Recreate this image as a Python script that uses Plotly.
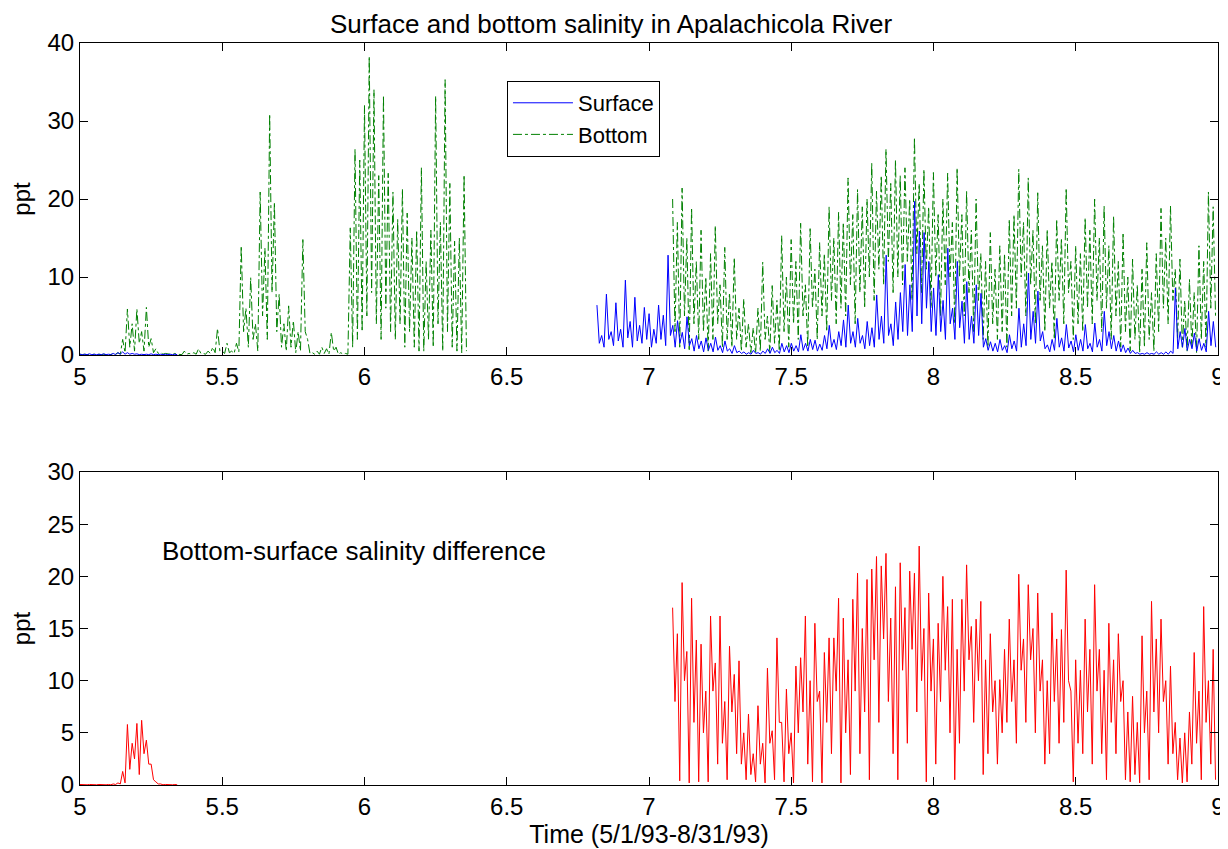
import plotly.graph_objects as go

# sampling step of the records, in months (about a quarter of a day)
STEP = 1 / 120

# surface salinity: two recorded stretches (peak / trough of each tidal cycle)
surface_starts = [5.0, 6.817]
surface_peaks_a = [0.1, 0.1, 0.15, 0.1, 0.1, 0.15, 0.1, 0.2, 0.3, 0.4, 0.3,
                   0.2, 0.15, 0.1, 0.1, 0.15, 0.1, 0.1, 0.1, 0.1, 0.1]
surface_troughs_a = [0.05, 0.05, 0.05, 0.05, 0.05, 0.05, 0.05, 0.05, 0.1, 0.1, 0.1,
                     0.1, 0.05, 0.05, 0.05, 0.05, 0.05, 0.05, 0.05, 0.05, 0.05]
surface_peaks_b = [
    6.4, 2.5, 7.8, 3, 6.7, 3.3, 9.6, 4.3, 7.4, 3.8, 6.1, 5.3,
    3.3, 6.4, 5.1, 12.8, 3.8, 4.4, 2.9, 4.9, 2.1, 2.5, 1.8, 2.2,
    1.5, 2.3, 1.2, 1.8, 0.8, 1.2, 0.5, 0.4, 0.3, 0.6, 0.3, 0.5,
    0.8, 1, 0.6, 1.5, 1.2, 1.5, 1.2, 2.6, 1.5, 2, 1.9, 1.4,
    2.5, 3.8, 2, 3, 4.5, 6.4, 3, 4.7, 2.5, 4.3, 3.5, 7.7,
    5, 12.8, 4, 6.8, 8, 11.6, 9, 19.7, 15.9, 15.7, 12, 8.6,
    10.3, 7, 13.7, 6, 12, 6.9, 9.4, 5, 9, 7.9, 2.1, 1.7,
    1.5, 2, 1.2, 2.6, 1.8, 6, 4, 10.5, 5.6, 8.2, 3, 1.3,
    2, 4.7, 2.2, 3.9, 1.8, 2.6, 2, 3.9, 1.5, 4.1, 2, 5.6,
    3, 2.5, 1.8, 1.3, 0.9, 0.6, 0.3, 0.2, 0.3, 0.2, 0.4, 0.3,
    0.4, 0.5, 8.6, 3, 3.4, 2, 2.8, 2.1, 1.5, 5.6, 4.3]
surface_troughs_b = [
    1.5, 1, 2, 1.2, 1.8, 1, 2.2, 1, 1.8, 1.5, 2, 1,
    1.5, 2, 1.2, 2.5, 1, 1.5, 0.8, 1.2, 0.5, 0.8, 0.4, 0.6,
    0.4, 0.6, 0.3, 0.5, 0.2, 0.3, 0.2, 0.1, 0.1, 0.2, 0.1, 0.2,
    0.2, 0.3, 0.2, 0.4, 0.3, 0.5, 0.4, 0.6, 0.5, 0.7, 0.5, 0.6,
    0.8, 1, 0.7, 1.2, 1, 1.5, 1, 1.5, 0.8, 1.2, 1, 2,
    1.5, 2.5, 1.2, 2, 3, 2.5, 3, 5, 4, 6, 3, 2.5,
    3, 2, 4, 2, 3.5, 1.5, 2, 1.5, 2.5, 1, 0.6, 0.5,
    0.4, 0.6, 0.3, 0.8, 0.5, 1, 1.2, 2, 1.5, 1.8, 0.8, 0.4,
    0.6, 1, 0.5, 0.9, 0.4, 0.6, 0.5, 0.8, 0.4, 1, 0.5, 1.2,
    0.8, 0.5, 0.4, 0.3, 0.2, 0.2, 0.1, 0.1, 0.1, 0.1, 0.1, 0.1,
    0.1, 0.2, 0.8, 1, 0.6, 0.8, 0.5, 0.6, 0.4, 1.2, 1]

# bottom salinity
bottom_starts = [5.0, 7.083]
bottom_peaks_a = [
    0.1, 0.1, 0.1, 0.1, 0.1, 0.1, 0.1, 0.2, 0.3, 2, 5.9, 4,
    5.9, 3, 6.1, 2.1, 0.8, 0.3, 0.2, 0.1, 0.2, 0.1, 0.5, 0.2,
    0.3, 0.8, 0.2, 0.5, 1, 3.4, 0.5, 1.5, 0.5, 1.5, 14, 6,
    9.9, 4, 20.9, 13.7, 30.9, 19.6, 7.8, 4, 6.3, 4.4, 3, 14.8,
    2, 0.3, 0.5, 1, 0.8, 2.9, 1, 0.3, 0.2, 16.3, 26.4, 25,
    32, 38.3, 34, 23, 33.3, 23.3, 20.9, 17.4, 21.3, 18.2, 15, 16,
    24, 12, 16, 33.2, 17, 35.3, 22, 14.6, 15, 23.1]
bottom_troughs_a = [
    0.05, 0.05, 0.05, 0.05, 0.05, 0.05, 0.05, 0.1, 0.1, 0.3, 1, 0.5,
    1.5, 0.5, 1, 0.3, 0.2, 0.1, 0.1, 0.05, 0.1, 0.05, 0.1, 0.1,
    0.1, 0.2, 0.1, 0.2, 0.3, 0.5, 0.2, 0.3, 0.2, 0.4, 3, 1,
    2, 0.5, 5, 2, 8, 3, 1, 0.5, 1, 0.3, 0.5, 3,
    0.2, 0.1, 0.1, 0.2, 0.1, 0.5, 0.1, 0.1, 0.1, 1, 2, 3,
    5, 8, 4, 2, 6, 3, 2, 4, 1, 3, 1, 0.5,
    0.5, 2, 1, 4, 0.5, 3, 1, 0.5, 0.3, 0.5]
bottom_peaks_b = [
    20, 17, 21.4, 15, 18.9, 12, 16, 10, 13, 16.6, 9, 13.8,
    8, 12.5, 6, 7.2, 4, 3.5, 6, 11.9, 5, 8.9, 7, 15.3,
    10, 14.8, 12, 16.9, 9, 16.2, 11, 14.4, 13, 19, 15, 18.3,
    17, 22.7, 18, 21.2, 19, 20, 24.6, 21, 23, 26.4, 22, 25,
    23, 24, 20, 27.9, 22, 23.8, 19, 23.4, 18, 20, 23.3, 17,
    24, 18, 21, 16, 20, 13, 12, 15.7, 11, 14, 13, 17.4,
    18, 23.8, 17, 22.7, 16, 20.8, 14, 16.1, 12, 17.4, 15, 21.4,
    12, 14, 13, 17.6, 16, 20, 15, 19.1, 14, 17.8, 12, 15.7,
    10, 12.3, 9, 11, 14.4, 8, 13, 18.8, 15, 19.1, 11, 12.3,
    7, 9.7, 8, 14, 12, 20.9, 19]
bottom_troughs_b = [
    3, 1, 5, 0.5, 4, 2, 3, 0.5, 2, 4, 1, 2,
    1, 2, 0.5, 1, 0.3, 0.2, 0.5, 2, 0.3, 1.5, 0.5, 3,
    1, 4, 2, 5, 1, 6, 2, 5, 3, 7, 4, 6,
    5, 9, 4, 8, 6, 10, 7, 11, 9, 12, 8, 10,
    9, 12, 7, 13, 8, 11, 6, 10, 5, 9, 10, 4,
    10, 5, 8, 3, 7, 2, 1, 4, 2, 3, 1, 5,
    6, 10, 5, 9, 4, 7, 3, 6, 2, 7, 4, 8,
    2, 4, 3, 6, 4, 7, 3, 6, 2, 5, 1, 3,
    0.5, 2, 0.3, 1, 2, 0.5, 3, 6, 4, 7, 2, 1,
    0.5, 1, 0.3, 2, 1, 6, 5]

# bottom-surface difference
diff_starts = [5.0, 7.083]
diff_peaks_a = [0.05, 0.05, 0.05, 0.05, 0.05, 0.05, 0.05, 0.1, 0.2, 1.3, 5.8,
                4, 5.9, 6.2, 4.3, 2, 0.3, 0.1, 0.05, 0.05, 0.05]
diff_troughs_a = [0.02, 0.02, 0.02, 0.02, 0.02, 0.02, 0.02, 0.05, 0.1, 0.2, 1.5,
                  2.5, 1, 3, 2, 0.5, 0.1, 0.02, 0.02, 0.02, 0.02]
diff_peaks_b = [
    17, 14.5, 19.4, 12.8, 17.9, 13.9, 13.5, 9, 16.2, 11.7, 16.2, 8,
    13.3, 10.6, 11.9, 5, 6.8, 3, 7.6, 4, 11.2, 5.2, 14.1, 6,
    9.2, 5, 11.4, 12.2, 16.2, 10, 15.5, 9, 12.7, 14.1, 14.1, 17.9,
    16, 12, 17.8, 20.3, 15, 19.7, 20.7, 21.9, 21, 22.2, 16, 19,
    21.3, 17, 20.5, 20.3, 22.9, 15, 18.4, 14, 15.5, 20, 17.1, 17.8,
    13, 17.8, 21.1, 15.2, 15.9, 17.6, 12, 14.5, 10, 10.1, 13, 15.9,
    12, 20.2, 14, 19.2, 15, 18.4, 12, 10, 16.5, 14, 14.9, 20.6,
    9, 12, 11, 15.9, 13, 19.2, 13, 11, 15.5, 12, 14.5, 10,
    7, 8.5, 6, 14.3, 9, 17.6, 14, 15.9, 10, 11.4, 6, 4.5,
    5, 7, 12.7, 9, 17.1, 10, 13]
diff_troughs_b = [
    8, 0.4, 10, 0.2, 6, 0.3, 5, 0.3, 9, 2, 4, 0.5,
    7, 3, 2, 0.5, 1, 0.3, 2, 0.2, 4, 0.5, 6, 0.3,
    3, 0.2, 5, 7, 2, 0.3, 8, 0.2, 6, 3, 9, 0.2,
    5, 1, 9, 3, 7, 0.5, 12, 6, 14, 8, 3, 0.5,
    11, 4, 13, 7, 10, 0.3, 9, 2, 8, 11, 5, 0.5,
    4, 9, 12, 6, 10, 1, 3, 7, 2, 5, 6, 8,
    4, 11, 6, 12, 5, 9, 2, 3, 8, 4, 6, 10,
    0.3, 4, 3, 7, 2, 9, 3, 0.5, 6, 3, 8, 0.5,
    0.3, 1, 0.2, 5, 0.5, 7, 5, 8, 2, 3, 0.5, 0.2,
    0.3, 2, 4, 0.5, 6, 2, 0.5]


def tide_series(starts, peak_lists, trough_lists):
    xs, ys = [], []
    for start, peaks, troughs in zip(starts, peak_lists, trough_lists):
        vals = [v for pair in zip(peaks, troughs) for v in pair]
        xs += [start + i * STEP for i in range(len(vals))] + [None]
        ys += vals + [None]
    return xs, ys


sx, sy = tide_series(surface_starts, [surface_peaks_a, surface_peaks_b],
                     [surface_troughs_a, surface_troughs_b])
bx, by = tide_series(bottom_starts, [bottom_peaks_a, bottom_peaks_b],
                     [bottom_troughs_a, bottom_troughs_b])
dx, dy = tide_series(diff_starts, [diff_peaks_a, diff_peaks_b],
                     [diff_troughs_a, diff_troughs_b])

FONT = "Liberation Sans, Arial, sans-serif"

fig = go.Figure()
fig.add_trace(go.Scatter(x=bx, y=by, mode="lines", name="Bottom", legendrank=2,
                         line=dict(color="#008000", width=1, dash="dashdot"),
                         xaxis="x", yaxis="y"))
fig.add_trace(go.Scatter(x=sx, y=sy, mode="lines", name="Surface", legendrank=1,
                         line=dict(color="#0000FF", width=1),
                         xaxis="x", yaxis="y"))
fig.add_trace(go.Scatter(x=dx, y=dy, mode="lines", name="Difference", showlegend=False,
                         line=dict(color="#FF0000", width=1),
                         xaxis="x2", yaxis="y2"))

axis_style = dict(showline=True, linecolor="black", linewidth=1, mirror="ticks",
                  ticks="inside", ticklen=8, tickcolor="black", showgrid=False,
                  zeroline=False, automargin=False,
                  tickfont=dict(size=24, color="black"))

# the page body adds an 8px offset, so the figure is 8px smaller than the window
fig.update_layout(
    width=1220, height=841,
    margin=dict(l=72, r=10, t=35, b=64),
    paper_bgcolor="white", plot_bgcolor="white",
    font=dict(family=FONT, color="black"),
    title=dict(text="Surface and bottom salinity in Apalachicola River",
               x=0.4666, xref="paper", xanchor="center", y=0.981, yanchor="middle",
               font=dict(size=26)),
    xaxis=dict(domain=[0, 1], range=[5, 9], dtick=0.5, anchor="y", **axis_style),
    yaxis=dict(domain=[0.5795, 1], range=[0, 40], dtick=10, anchor="x",
               title=dict(text="ppt", font=dict(size=24), standoff=12), **axis_style),
    xaxis2=dict(domain=[0, 1], range=[5, 9], dtick=0.5, anchor="y2",
                title=dict(text="Time (5/1/93-8/31/93)", font=dict(size=25), standoff=2),
                **axis_style),
    yaxis2=dict(domain=[0, 0.4218], range=[0, 30], dtick=5, anchor="x2",
                title=dict(text="ppt", font=dict(size=24), standoff=12), **axis_style),
    legend=dict(x=0.3752, y=0.9488, xanchor="left", yanchor="top",
                bgcolor="white", bordercolor="black", borderwidth=1,
                font=dict(size=22), tracegroupgap=0, itemwidth=60),
    showlegend=True,
)

fig.add_annotation(text="Bottom-surface salinity difference", xref="x2", yref="y2",
                   x=5.28, y=22.4, xanchor="left", yanchor="middle", showarrow=False,
                   font=dict(size=26))

fig.write_html("out.html")
